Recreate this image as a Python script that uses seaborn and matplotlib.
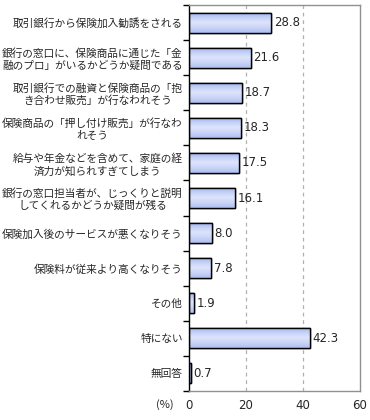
import numpy as np
import pandas as pd
import matplotlib
matplotlib.use("Agg")
import matplotlib.pyplot as plt
import seaborn as sns
from matplotlib.colors import LinearSegmentedColormap

categories = [
    "取引銀行から保険加入勧誘をされる",
    "銀行の窓口に、保険商品に通じた「金\n融のプロ」がいるかどうか疑問である",
    "取引銀行での融資と保険商品の「抱\nき合わせ販売」が行なわれそう",
    "保険商品の「押し付け販売」が行なわ\nれそう",
    "給与や年金などを含めて、家庭の経\n済力が知られすぎてしまう",
    "銀行の窓口担当者が、じっくりと説明\nしてくれるかどうか疑問が残る",
    "保険加入後のサービスが悪くなりそう",
    "保険料が従来より高くなりそう",
    "その他",
    "特にない",
    "無回答",
]
values = [28.8, 21.6, 18.7, 18.3, 17.5, 16.1, 8.0, 7.8, 1.9, 42.3, 0.7]
xticks = [0, 20, 40, 60]

sns.set_style("white")
plt.rcParams['font.family'] = ['Noto Sans CJK JP', 'DejaVu Sans']

df = pd.DataFrame({"cat": categories, "val": values})

fig = plt.figure(figsize=(3.7, 4.2), dpi=100)
ax = fig.add_axes([189/370, 1 - 391/420, (360 - 189)/370, (391 - 5)/420])

sns.barplot(data=df, x="val", y="cat", orient="h", ax=ax, width=0.57,
            color="#b8c6f2", edgecolor="black", linewidth=1.0, saturation=1)

# gradient fill
cmap = LinearSegmentedColormap.from_list(
    "g", ["#9db1ee", "#c4d0f6", "#dde4fb", "#c9d4f7", "#aebff1"])
grad = np.linspace(0, 1, 64).reshape(-1, 1)
for p in ax.patches:
    x0, y0 = p.get_x(), p.get_y()
    w, h = p.get_width(), p.get_height()
    im = ax.imshow(grad, cmap=cmap, aspect="auto",
                   extent=[x0, x0 + w, y0 + h, y0], zorder=p.get_zorder() + 0.1,
                   origin="upper")
    im.set_clip_path(p)
    ax.add_patch(plt.Rectangle((x0, y0), w, h, fill=False, edgecolor="black",
                               linewidth=1.0, zorder=p.get_zorder() + 0.2))

ax.set_xlim(0, 60)
ax.set_ylim(len(categories) - 0.5, -0.5)
ax.set_xticks(xticks)
ax.set_xticklabels([str(t) for t in xticks], family="DejaVu Sans", fontsize=8.5)
ax.tick_params(axis="x", length=0, pad=6)

ax.set_yticks(range(len(categories)))
ax.set_yticklabels(categories, fontsize=7.7, multialignment="center")
ax.tick_params(axis="y", which="major", length=0, pad=4.5)
ax.set_yticks(np.arange(-0.5, len(categories), 1.0), minor=True)
ax.tick_params(axis="y", which="minor", length=4, width=1, color="black", left=True)
ax.set_xlabel("")
ax.set_ylabel("")

for g in [20, 40]:
    ax.axvline(g, color="#b0b0b0", linestyle=(0, (3, 3)), linewidth=0.9, zorder=0)

for s in ["top", "right", "bottom"]:
    ax.spines[s].set_color("#909090")
    ax.spines[s].set_linewidth(1.0)
ax.spines["left"].set_color("black")
ax.spines["left"].set_linewidth(1.0)

for i, v in enumerate(values):
    ax.text(v + 0.9, i, f"{v:.1f}", va="center", ha="left",
            family="DejaVu Sans", fontsize=8.5)

fig.text(165/370, 1 - 405/420, "(%)", ha="center", va="center", fontsize=8)

fig.savefig("out.png", dpi=100)
